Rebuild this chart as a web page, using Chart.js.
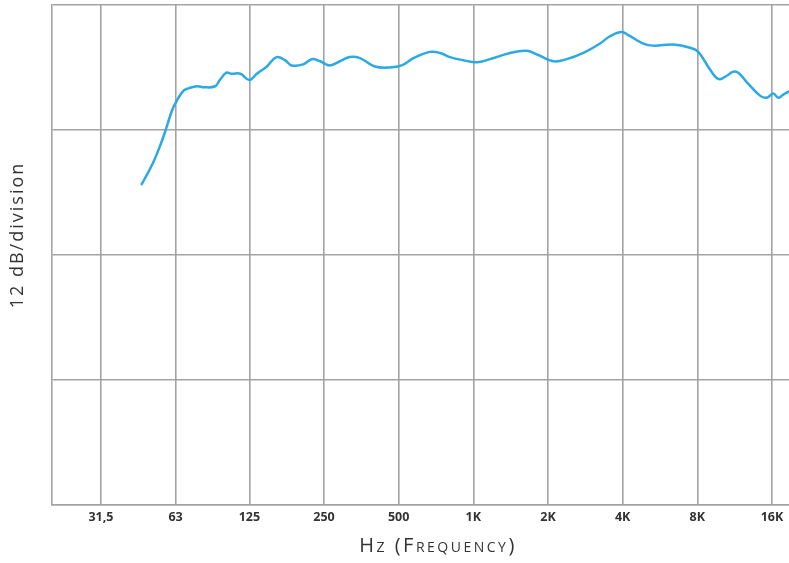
<!DOCTYPE html>
<html>
<head>
<meta charset="utf-8">
<script src="https://cdn.jsdelivr.net/npm/chart.js@4/dist/chart.umd.min.js"></script>
<style>
  html, body { margin: 0; padding: 0; background: #fff; overflow: hidden; }
  #wrap { width: 800px; height: 563px; }
</style>
</head>
<body>
<div id="wrap"><canvas id="fr" width="800" height="563"></canvas></div>
<script>
// Octave-band tick positions (Hz) and their printed labels
const tickHz = [31.5, 63, 125, 250, 500, 1000, 2000, 4000, 8000, 16000];
const tickLabels = ['31,5', '63', '125', '250', '500', '1K', '2K', '4K', '8K', '16K'];

// Measured frequency response: frequency (Hz) and relative level (dB)
const freqHz = [46, 47, 51, 55, 58, 61, 64, 68, 71, 77,
  82, 91, 95, 101, 106, 115, 125, 134, 147, 161,
  174, 185, 206, 223, 241, 264, 290, 318, 349, 401,
  461, 514, 573, 669, 734, 805, 911, 1032, 1167, 1406,
  1641, 1828, 2102, 2380, 2776, 3240, 3557, 3966, 4217, 4846,
  5318, 6402, 7476, 8072, 9003, 9721, 10344, 11174, 11705, 12653,
  14316, 15236, 16200, 16968, 17776, 18742];
const levelDb = [30.8, 31.2, 32.8, 34.7, 36.3, 37.9, 38.9, 39.8, 40.0, 40.2,
  40.1, 40.2, 40.8, 41.5, 41.4, 41.4, 40.8, 41.4, 42.1, 43.0,
  42.7, 42.2, 42.3, 42.8, 42.6, 42.2, 42.6, 43.0, 42.9, 42.1,
  42.0, 42.2, 42.9, 43.5, 43.4, 43.0, 42.7, 42.5, 42.8, 43.4,
  43.6, 43.2, 42.6, 42.8, 43.4, 44.3, 45.0, 45.4, 45.1, 44.3,
  44.1, 44.2, 43.9, 43.5, 41.8, 40.9, 41.1, 41.6, 41.5, 40.6,
  39.3, 39.1, 39.5, 39.1, 39.4, 39.7];

// Vertical scale: 12 dB per division, four divisions
const dbStep = 12;
const dbMax = 48;

const gridColor = '#a3a3a3';
const textColor = '#333333';

const axisTitles = {
  id: 'axisTitles',
  afterDraw(chart) {
    const ctx = chart.ctx;
    ctx.save();
    ctx.fillStyle = textColor;
    ctx.textAlign = 'center';
    ctx.textBaseline = 'middle';

    // vertical axis caption
    ctx.font = "18px 'Open Sans'";
    if ('letterSpacing' in ctx) ctx.letterSpacing = '2px';
    ctx.save();
    ctx.translate(18, 235);
    ctx.rotate(-Math.PI / 2);
    ctx.fillText('12 dB/division', 0, 0);
    ctx.restore();

    // horizontal axis caption in small capitals
    ctx.font = "small-caps 20px 'Open Sans'";
    if ('fontVariantCaps' in ctx) ctx.fontVariantCaps = 'small-caps';
    if ('letterSpacing' in ctx) ctx.letterSpacing = '2.5px';
    ctx.fillText('Hz (Frequency)', 438, 546);
    ctx.restore();
  }
};

new Chart(document.getElementById('fr'), {
  type: 'line',
  data: {
    datasets: [{
      data: freqHz.map((f, i) => ({ x: f, y: levelDb[i] })),
      borderColor: '#2aa9e3',
      borderWidth: 2.5,
      borderCapStyle: 'round',
      borderJoinStyle: 'round',
      pointRadius: 0,
      tension: 0.4,
      fill: false
    }]
  },
  options: {
    responsive: false,
    animation: false,
    layout: { padding: { top: 5, right: 4, left: 0, bottom: 0 } },
    plugins: { legend: { display: false }, tooltip: { enabled: false } },
    scales: {
      x: {
        type: 'logarithmic',
        min: 20,
        max: 20000,
        afterBuildTicks(scale) { scale.ticks = tickHz.map(v => ({ value: v })); },
        afterFit(scale) { scale.height = 58; },
        grid: { color: gridColor, lineWidth: 1.6, drawTicks: false },
        border: { display: true, color: gridColor, width: 1.6 },
        ticks: {
          autoSkip: false,
          maxRotation: 0,
          padding: 5,
          color: textColor,
          font: { family: "'Open Sans'", size: 12.5, weight: 'bold' },
          callback: (v, i) => tickLabels[i]
        }
      },
      y: {
        min: 0,
        max: dbMax,
        afterFit(scale) { scale.width = 52; },
        ticks: { stepSize: dbStep, display: false },
        grid: { color: gridColor, lineWidth: 1.6, drawTicks: false },
        border: { display: true, color: gridColor, width: 1.6 }
      }
    }
  },
  plugins: [axisTitles]
});
</script>
</body>
</html>
